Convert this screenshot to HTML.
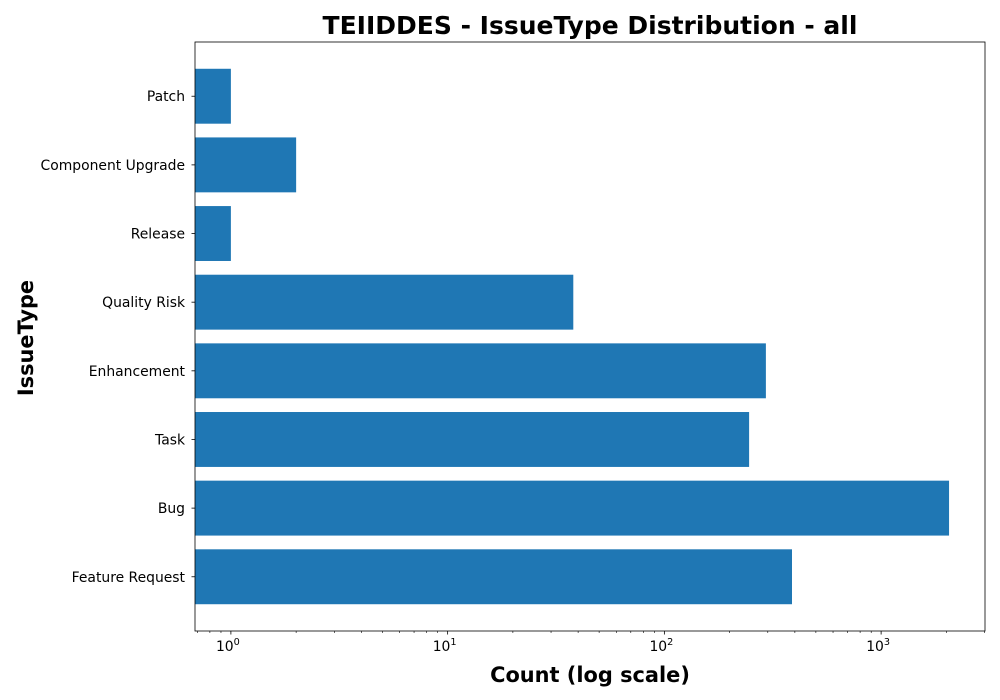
<!DOCTYPE html>
<html><head><meta charset="utf-8"><style>body{margin:0;background:#fff}svg{display:block;font-family:"DejaVu Sans","Liberation Sans",sans-serif}</style></head>
<body>
<svg id="chart" width="1000" height="700"></svg>
<script>
const categories=["Feature Request","Bug","Task","Enhancement","Quality Risk","Release","Component Upgrade","Patch"];
const counts=[388,2058,246,294,38,1,2,1];
const xTickExps=[0,1,2,3];
const L=195,R=985,T=42,B=631;
const xMinLog=Math.log10(0.683),xMaxLog=Math.log10(3015);
function xs(v){return L+(Math.log10(v)-xMinLog)/(xMaxLog-xMinLog)*(R-L);}
const yMin=-0.79,yMax=7.79;
function ys(i){return B-(i-yMin)/(yMax-yMin)*(B-T);}
const svg=document.getElementById('chart');const NS="http://www.w3.org/2000/svg";
function mk(t,a,txt){const e=document.createElementNS(NS,t);for(const k in a)e.setAttribute(k,a[k]);if(txt!==undefined)e.textContent=txt;svg.appendChild(e);return e;}
const bw=0.8*(B-T)/(yMax-yMin);
categories.forEach((c,i)=>{
 const y=ys(i);
 const r=mk('rect',{x:L,y:y-bw/2,width:Math.max(0,xs(counts[i])-L),height:bw,fill:'#1f77b4'});
 
 
 const tk=mk('line',{x1:L-3.5,x2:L,y1:y,y2:y,stroke:'#000','stroke-width':0.8});
 
 
 const t=mk('text',{x:L-10,y:y+5,'font-size':13.9,'text-anchor':'end'},c);
 
 
});
for(let e=-1;e<=3;e++)for(let m=2;m<=9;m++){const v=m*Math.pow(10,e);const x=xs(v);if(x<L||x>R)continue;
 const l=mk('line',{x1:x,x2:x,y1:B,y2:B+2,stroke:'#000','stroke-width':0.6});
 
 }
xTickExps.forEach(e=>{const x=xs(Math.pow(10,e));
 const l=mk('line',{x1:x,x2:x,y1:B,y2:B+3.5,stroke:'#000','stroke-width':0.8});
 
 
 const t=mk('text',{x:x-3,y:B+20,'font-size':13.9,'text-anchor':'middle'});
 
 
 t.innerHTML='10<tspan font-size="9.7" dy="-6">'+e+'</tspan>';
});
const fr=mk('rect',{x:L,y:T,width:R-L,height:B-T,fill:'none',stroke:'#000','stroke-width':0.8});


const ti=mk('text',{x:590,y:34,'font-size':25,'font-weight':'bold','text-anchor':'middle'},'TEIIDDES - IssueType Distribution - all');


const xt=mk('text',{x:590,y:682,'font-size':20.9,'font-weight':'bold','text-anchor':'middle'},'Count (log scale)');


const yt=mk('text',{x:0,y:0,'font-size':20.9,'font-weight':'bold','text-anchor':'middle',transform:'translate(33,338) rotate(-90)'},'IssueType');


</script>
</body></html>
